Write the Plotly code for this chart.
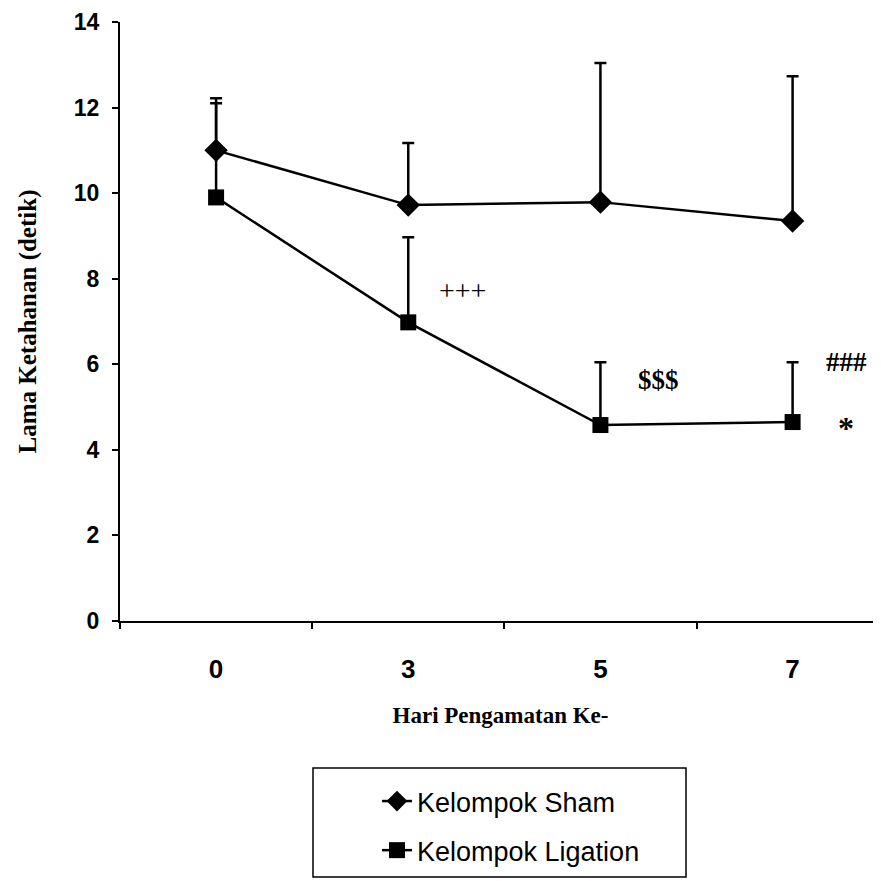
import plotly.graph_objects as go

days = ["0", "3", "5", "7"]
sham_mean = [11.0, 9.72, 9.79, 9.35]
sham_err = [1.22, 1.45, 3.25, 3.38]
lig_mean = [9.9, 6.98, 4.58, 4.65]
lig_err = [2.2, 1.99, 1.47, 1.4]
zeros = [0, 0, 0, 0]

notes = ["+++", "<b>$$$</b>", "<b>###</b>", "<b>*</b>"]
note_x = [1.28, 2.30, 3.28, 3.28]
note_y = [7.73, 5.63, 6.05, 4.5]
note_size = [28, 27, 27, 32]

# page geometry (the html body adds an 8px offset)
W = 873
PL, PT, PH, PW = 120, 22, 599, 761  # plot area in page px

fig = go.Figure()
fig.add_trace(go.Scatter(
    x=days, y=sham_mean, name="Kelompok Sham", mode="lines+markers", legendgroup="a",
    line=dict(color="black", width=2.5),
    marker=dict(symbol="diamond", size=18, color="black"),
    error_y=dict(type="data", array=sham_err, arrayminus=zeros, symmetric=False,
                 color="black", thickness=2.5, width=6),
))
fig.add_trace(go.Scatter(
    x=days, y=lig_mean, name="Kelompok Ligation", mode="lines+markers", legendgroup="b",
    line=dict(color="black", width=2.5),
    marker=dict(symbol="square", size=16, color="black"),
    error_y=dict(type="data", array=lig_err, arrayminus=zeros, symmetric=False,
                 color="black", thickness=2.5, width=6),
))

for t, xx, yy, s in zip(notes, note_x, note_y, note_size):
    fig.add_annotation(x=xx, y=yy, xref="x", yref="y", text=t, showarrow=False,
                       font=dict(family="Liberation Serif", size=s, color="black"))

fig.add_shape(type="rect", xref="paper", yref="paper",
              x0=(313 - PL) / PW, x1=(686 - PL) / PW,
              y0=(PT + PH - 877) / PH, y1=(PT + PH - 768) / PH,
              line=dict(color="black", width=1.5), fillcolor="white", layer="below")

fig.update_layout(
    width=W, height=W,
    margin=dict(l=112, r=0, t=14, b=260),
    paper_bgcolor="white", plot_bgcolor="white",
    showlegend=True,
    legend=dict(x=(377 - PL) / PW, y=(PT + PH - 777) / PH, xanchor="left", yanchor="top",
                bgcolor="rgba(0,0,0,0)", borderwidth=0,
                font=dict(family="Liberation Sans", size=27, color="black"),
                tracegroupgap=11, itemwidth=30),
    xaxis=dict(type="category", range=[-0.5, 3.46], tickson="boundaries",
               showline=True, linecolor="black", linewidth=2,
               ticks="outside", ticklen=6, tickcolor="black", tickwidth=1.5,
               showgrid=False, zeroline=False, ticklabelstandoff=24,
               tickfont=dict(family="Liberation Sans", size=26, color="black", weight="bold"),
               title=dict(text="<b>Hari Pengamatan Ke-</b>", standoff=24,
                          font=dict(family="Liberation Serif", size=23, color="black"))),
    yaxis=dict(range=[0, 14], dtick=2, showline=True, linecolor="black", linewidth=2,
               ticks="outside", ticklen=6, tickcolor="black", tickwidth=1.5,
               showgrid=False, zeroline=False, ticklabelstandoff=8,
               tickfont=dict(family="Liberation Sans", size=23, color="black", weight="bold"),
               title=dict(text="<b>Lama Ketahanan (detik)</b>", standoff=30,
                          font=dict(family="Liberation Serif", size=25, color="black"))),
)
fig.write_html("out.html")
